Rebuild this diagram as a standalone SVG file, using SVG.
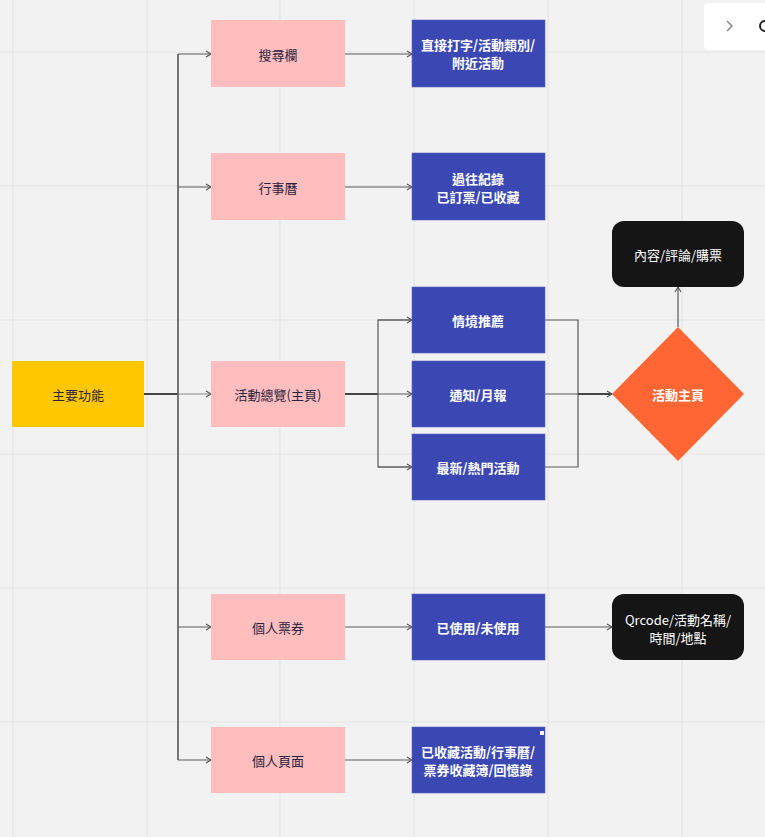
<svg xmlns="http://www.w3.org/2000/svg" width="765" height="837" viewBox="0 0 765 837">
<style>
text{font-family:"Noto Sans CJK TC","Noto Sans",sans-serif;font-size:13px;text-anchor:middle;dominant-baseline:central}
.grid line{stroke:#e3e3e3;stroke-width:1}
.pink{fill:#ffbdbd}
.pink+text{fill:#2b2340}
.blue{fill:#3b48b3;stroke:#5a66c8;stroke-width:0.6}
.wt{fill:#ffffff;font-weight:bold}
.blk{fill:#151515}
.bt{fill:#ffffff}
.conn path,.conn line{fill:none;stroke:#5a5a5a;stroke-width:1.2}
</style>
<defs>
<marker id="ah" markerWidth="8" markerHeight="8" refX="6" refY="4" orient="auto" markerUnits="userSpaceOnUse">
<path d="M1,1 L6,4 L1,7" fill="none" stroke="#555" stroke-width="1.1"/>
</marker>
</defs>
<rect width="765" height="837" fill="#f2f2f2"/>
<g class="grid">
<line x1="13" y1="0" x2="13" y2="837"/><line x1="147" y1="0" x2="147" y2="837"/><line x1="280" y1="0" x2="280" y2="837"/><line x1="414" y1="0" x2="414" y2="837"/><line x1="548" y1="0" x2="548" y2="837"/><line x1="682" y1="0" x2="682" y2="837"/>
<line x1="0" y1="52" x2="765" y2="52"/><line x1="0" y1="186" x2="765" y2="186"/><line x1="0" y1="320" x2="765" y2="320"/><line x1="0" y1="454" x2="765" y2="454"/><line x1="0" y1="588" x2="765" y2="588"/><line x1="0" y1="722" x2="765" y2="722"/>
</g>
<g id="ui-widget">
<rect x="704" y="3" width="75" height="47" rx="5" fill="#ffffff"/>
<path d="M727,21 L732,26 L727,31" fill="none" stroke="#8a8a8a" stroke-width="1.5"/>
<path d="M765,21 A5,5 0 0 0 765,31" fill="none" stroke="#222" stroke-width="2"/>
</g>
<g class="conn">
<line x1="144" y1="394" x2="178" y2="394" style="stroke:#444;stroke-width:2"/>
<line x1="178" y1="54" x2="178" y2="760" style="stroke:#555;stroke-width:1.6"/>
<line x1="178" y1="54" x2="211" y2="54" marker-end="url(#ah)"/>
<line x1="178" y1="187" x2="211" y2="187" marker-end="url(#ah)"/>
<line x1="178" y1="394" x2="211" y2="394" marker-end="url(#ah)" style="stroke:#888"/>
<line x1="178" y1="627" x2="211" y2="627" marker-end="url(#ah)"/>
<line x1="178" y1="760" x2="211" y2="760" marker-end="url(#ah)"/>
<line x1="345" y1="54" x2="412" y2="54" marker-end="url(#ah)"/>
<line x1="345" y1="187" x2="412" y2="187" marker-end="url(#ah)"/>
<line x1="345" y1="627" x2="412" y2="627" marker-end="url(#ah)"/>
<line x1="345" y1="760" x2="412" y2="760" marker-end="url(#ah)"/>
<line x1="345" y1="394" x2="378" y2="394" style="stroke:#444;stroke-width:1.8"/>
<path d="M412,320 H378 V467 H412"/>
<line x1="378" y1="320" x2="412" y2="320" marker-end="url(#ah)"/>
<line x1="378" y1="394" x2="412" y2="394" marker-end="url(#ah)"/>
<line x1="378" y1="467" x2="412" y2="467" marker-end="url(#ah)"/>
<path d="M545,320 H578 V467 H545"/>
<line x1="545" y1="394" x2="578" y2="394"/>
<line x1="578" y1="394" x2="612" y2="394" marker-end="url(#ah)" style="stroke:#444;stroke-width:1.8"/>
<line x1="678" y1="327" x2="678" y2="287" marker-end="url(#ah)"/>
<line x1="545" y1="627" x2="612" y2="627" marker-end="url(#ah)"/>
</g>
<g id="main">
<rect x="12" y="361" width="132" height="66" fill="#ffc700"/>
<text x="78" y="394" fill="#2b2340">主要功能</text>
</g>
<g id="search">
<rect class="pink" x="211" y="20" width="134" height="67"/>
<text x="278" y="54">搜尋欄</text>
</g>
<g id="calendar">
<rect class="pink" x="211" y="153" width="134" height="67"/>
<text x="278" y="187">行事曆</text>
</g>
<g id="overview">
<rect class="pink" x="211" y="361" width="134" height="66"/>
<text x="278" y="394">活動總覽(主頁)</text>
</g>
<g id="tickets">
<rect class="pink" x="211" y="594" width="134" height="66"/>
<text x="278" y="627">個人票券</text>
</g>
<g id="profile">
<rect class="pink" x="211" y="727" width="134" height="66"/>
<text x="278" y="760">個人頁面</text>
</g>
<g id="search-detail">
<rect class="blue" x="412" y="20" width="133" height="67"/>
<text class="wt" x="478" y="44.5">直接打字/活動類別/</text>
<text class="wt" x="478" y="62.5">附近活動</text>
</g>
<g id="calendar-detail">
<rect class="blue" x="412" y="153" width="133" height="67"/>
<text class="wt" x="478" y="178">過往紀錄</text>
<text class="wt" x="478" y="196">已訂票/已收藏</text>
</g>
<g id="recommend">
<rect class="blue" x="412" y="287" width="133" height="66"/>
<text class="wt" x="478" y="320">情境推薦</text>
</g>
<g id="notify">
<rect class="blue" x="412" y="361" width="133" height="66"/>
<text class="wt" x="478" y="394">通知/月報</text>
</g>
<g id="latest">
<rect class="blue" x="412" y="434" width="133" height="66"/>
<text class="wt" x="478" y="467">最新/熱門活動</text>
</g>
<g id="used">
<rect class="blue" x="412" y="594" width="133" height="66"/>
<text class="wt" x="478" y="627">已使用/未使用</text>
</g>
<g id="profile-detail">
<rect class="blue" x="412" y="727" width="133" height="66"/>
<rect x="540" y="731" width="4" height="4" fill="#ffffff"/>
<text class="wt" x="478" y="751">已收藏活動/行事曆/</text>
<text class="wt" x="478" y="769">票券收藏簿/回憶錄</text>
</g>
<g id="event-page">
<polygon points="678,327 744,394 678,461 612,394" fill="#ff6633"/>
<text class="wt" x="678" y="394">活動主頁</text>
</g>
<g id="content">
<rect class="blk" x="612" y="221" width="132" height="66" rx="12"/>
<text class="bt" x="678" y="254">內容/評論/購票</text>
</g>
<g id="qrcode">
<rect class="blk" x="612" y="594" width="132" height="66" rx="12"/>
<text class="bt" x="678" y="619">Qrcode/活動名稱/</text>
<text class="bt" x="678" y="637">時間/地點</text>
</g>
</svg>
